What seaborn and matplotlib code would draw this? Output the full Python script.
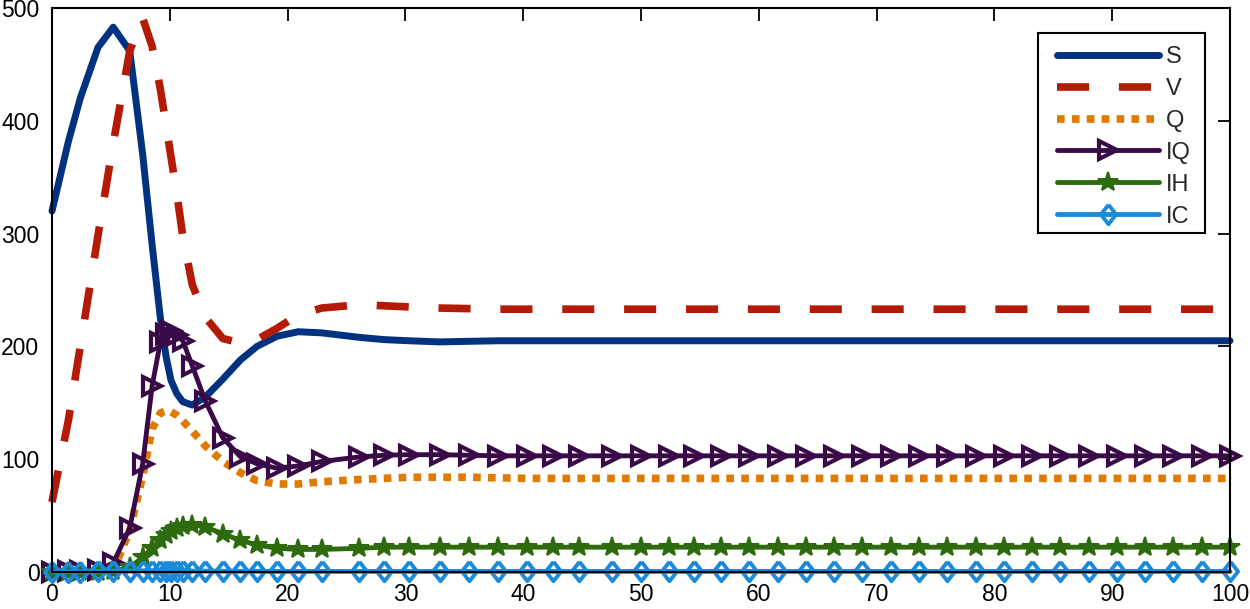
import numpy as np
import pandas as pd
import matplotlib
matplotlib.use("Agg")
import matplotlib.pyplot as plt
import matplotlib.patches as mpatches
import seaborn as sns

# solver output times (markers sit on every step)
t = [0, 1.4, 2.4, 3.9, 5.2, 6.6, 7.7, 8.5, 9.2, 9.7, 10.1, 10.6, 11.1, 11.9,
     13.0, 14.5, 16.0, 17.4, 19.1, 20.9, 22.9, 26.1, 28.2, 30.3, 32.9, 35.4,
     37.9, 40.3, 42.5, 44.7, 47.5, 50.0, 52.4, 54.5, 56.8, 59.2, 61.6, 64.0,
     66.4, 68.8, 71.2, 73.6, 76.0, 78.4, 80.8, 83.2, 85.6, 88.0, 90.4, 92.8,
     95.2, 97.6, 100]

S = [320, 382, 420, 465, 483, 462, 370, 290, 225, 190, 170, 158, 151, 148,
     155, 171, 188, 200, 209, 213, 212, 208, 206, 205, 204, 204.5,
     205, 205, 205, 205, 205, 205, 205, 205, 205, 205, 205, 205,
     205, 205, 205, 205, 205, 205, 205, 205, 205, 205, 205, 205,
     205, 205, 205]
V = [62, 135, 200, 298, 380, 462, 491, 466, 428, 395, 368, 335, 298, 255,
     226, 207, 203, 206, 216, 228, 234, 237, 236, 235, 234, 233.5,
     233, 233, 233, 233, 233, 233, 233, 233, 233, 233, 233, 233,
     233, 233, 233, 233, 233, 233, 233, 233, 233, 233, 233, 233,
     233, 233, 233]
Q = [0, 0, 0, 0, 1, 37, 85, 127, 141, 143, 142, 139, 134, 125,
     112, 98, 88, 81, 78, 78, 80, 82, 83, 84, 84, 84,
     83.5, 83, 83, 83, 83, 83, 83, 83, 83, 83, 83, 83,
     83, 83, 83, 83, 83, 83, 83, 83, 83, 83, 83, 83,
     83, 83, 83]
IQ = [0, 0.5, 1, 2, 8, 39, 96, 165, 204, 211, 214, 210, 205, 183,
      152, 119, 102, 96, 92, 94, 98, 102, 103.5, 104, 104, 103.5,
      103, 103, 103, 103, 103, 103, 103, 103, 103, 103, 103, 103,
      103, 103, 103, 103, 103, 103, 103, 103, 103, 103, 103, 103,
      103, 103, 103]
IH = [0, 0, 0, 0, 0.5, 4, 13, 21, 28, 33, 36, 39, 41, 42,
      40, 34, 28, 24, 21, 20, 20, 21, 22, 22, 22, 22,
      22, 22, 22, 22, 22, 22, 22, 22, 22, 22, 22, 22,
      22, 22, 22, 22, 22, 22, 22, 22, 22, 22, 22, 22,
      22, 22, 22]
IC = [0, 0.2, 0.3, 0.5, 0.7, 0.9, 1.0, 1.0, 1.0, 1.0, 1.0, 0.9, 0.9, 0.8,
      0.8, 0.7, 0.6, 0.6, 0.5, 0.5, 0.5, 0.5, 0.5, 0.5, 0.5, 0.5,
      0.5, 0.5, 0.5, 0.5, 0.5, 0.5, 0.5, 0.5, 0.5, 0.5, 0.5, 0.5,
      0.5, 0.5, 0.5, 0.5, 0.5, 0.5, 0.5, 0.5, 0.5, 0.5, 0.5, 0.5,
      0.5, 0.5, 0.5]

sns.set_theme(style="white")
plt.rcParams["font.family"] = ["Liberation Sans", "DejaVu Sans"]

W, H = 1250, 609
fig = plt.figure(figsize=(W / 100, H / 100), dpi=100)
ax = fig.add_axes([52 / W, 1 - 572 / H, (1230 - 52) / W, (572 - 8) / H])

diamond = [(0, 1), (0.78, 0), (0, -1), (-0.78, 0), (0, 1)]

sns.lineplot(x=t, y=S, ax=ax, color="#00327f", lw=5, label="S")
sns.lineplot(x=t, y=V, ax=ax, color="#b31b06", lw=5.5,
             linestyle=(0, (4.2, 3.9)), label="V")
sns.lineplot(x=t, y=Q, ax=ax, color="#e07a00", lw=5.5,
             linestyle=(0, (1.0, 0.95)), label="Q")
sns.lineplot(x=t, y=IQ, ax=ax, color="#3a0a48", lw=3.5, marker=">",
             markersize=13, mfc="none", mec="#3a0a48", mew=3, label="IQ")
sns.lineplot(x=t, y=IH, ax=ax, color="#2e6b0e", lw=3.5, marker="*",
             markersize=15, mfc="#2e6b0e", mec="#2e6b0e", mew=1.5, label="IH")
sns.lineplot(x=t, y=IC, ax=ax, color="#1b8ad8", lw=3.5, marker=diamond,
             markersize=14, mfc="none", mec="#1b8ad8", mew=2.8, label="IC")
for ln in ax.lines:
    ln.set_clip_on(False)

ax.set_xlim(0, 100)
ax.set_ylim(0, 500)
ax.set_xticks(np.arange(0, 101, 10))
ax.set_yticks(np.arange(0, 501, 100))
ax.tick_params(direction="in", length=9, width=1.3, top=True, right=True,
               labelsize=16.5, colors="black")
ax.tick_params(axis="x", pad=8)
ax.tick_params(axis="y", pad=9)
for sp in ax.spines.values():
    sp.set_color("black")
    sp.set_linewidth(1.5)
ax.set_xlabel("")
ax.set_ylabel("")

# legend box drawn separately so the handles can sit further in
box = mpatches.Rectangle((1038 / W, 1 - 233 / H), (1205 - 1038) / W, 200 / H,
                         transform=fig.transFigure, facecolor="white",
                         edgecolor="black", lw=1.5, zorder=5)
fig.patches.append(box)
leg = ax.legend(loc="upper left", bbox_to_anchor=(1057 / W, 1 - 46 / H),
                bbox_transform=fig.transFigure, fontsize=17, handlelength=4.3,
                handletextpad=0.3, labelspacing=0.42, borderpad=0,
                borderaxespad=0, frameon=False, numpoints=1)
leg.set_zorder(6)
fig.legends.append(leg)
ax.get_legend().remove()

fig.savefig("out.png", dpi=100)
